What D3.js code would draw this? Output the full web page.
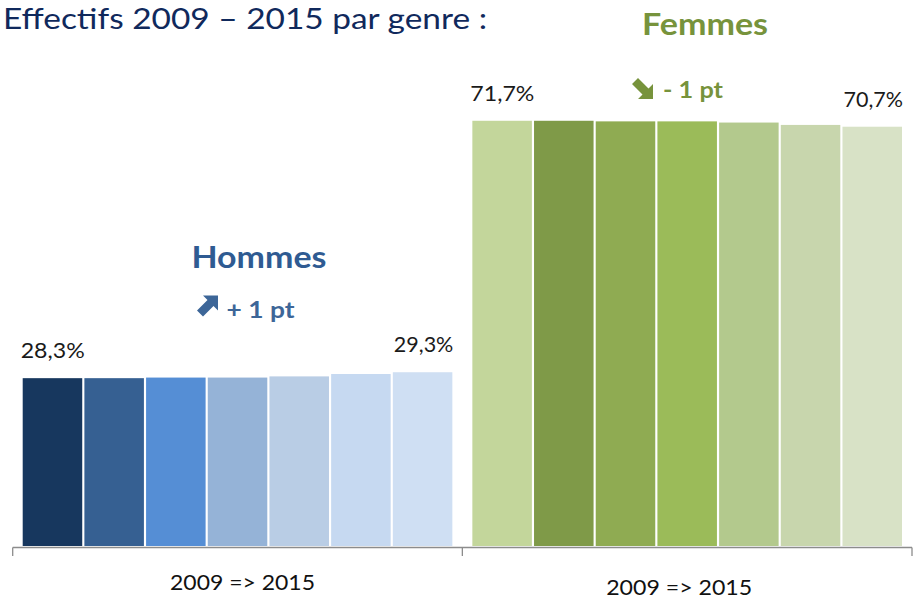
<!DOCTYPE html>
<html>
<head>
<meta charset="utf-8">
<script src="https://cdn.jsdelivr.net/npm/d3@7"></script>
<style>
  html, body { margin: 0; padding: 0; background: #fff; }
  svg text { font-family: Lato, "Open Sans", sans-serif; }
</style>
</head>
<body>
<svg id="chart" width="914" height="599"></svg>
<script>
// data
const groups = ["Hommes", "Femmes"];
const years = ["2009", "2010", "2011", "2012", "2013", "2014", "2015"];
const hommes = [28.3, 28.3, 28.4, 28.4, 28.6, 29.0, 29.3];
const femmes = [71.7, 71.7, 71.6, 71.6, 71.4, 71.0, 70.7];
const hommesLabels = ["28,3%", "29,3%"];
const femmesLabels = ["71,7%", "70,7%"];
const evolution = ["+ 1 pt", "- 1 pt"];
const axisLabel = "2009 => 2015";

const hommesColors = ["#17375e", "#366092", "#558ed5", "#95b3d7", "#b9cde5", "#c6d9f1", "#cfdff3"];
const femmesColors = ["#c3d69b", "#7f9a48", "#8fab52", "#9bbb59", "#b3c98d", "#c8d6ad", "#d8e2c6"];

const svg = d3.select("#chart");
const baseline = 546;

const x0 = d3.scaleBand()
  .domain(groups)
  .range([12.7, 912]);

const x1 = d3.scaleBand()
  .domain(years)
  .range([10, x0.bandwidth() - 10])
  .paddingInner(0.035);

const y = d3.scaleLinear()
  .domain([0, 72])
  .range([baseline, 119]);

const series = [
  { name: "Hommes", values: hommes, colors: hommesColors, labels: hommesLabels },
  { name: "Femmes", values: femmes, colors: femmesColors, labels: femmesLabels }
];

// title
svg.append("text")
  .attr("x", 3)
  .attr("y", 29)
  .attr("font-size", 28)
  .attr("fill", "#10295c")
  .attr("textLength", 484)
  .attr("lengthAdjust", "spacingAndGlyphs")
  .text("Effectifs 2009 \u2013 2015 par genre :");

// bars
series.forEach((s) => {
  const g = svg.append("g")
    .attr("transform", `translate(${x0(s.name)},0)`);

  g.selectAll("rect")
    .data(s.values)
    .enter()
    .append("rect")
    .attr("x", (d, i) => x1(years[i]))
    .attr("y", (d) => y(d))
    .attr("width", x1.bandwidth())
    .attr("height", (d) => baseline - y(d))
    .attr("fill", (d, i) => s.colors[i]);

  // first / last value labels
  const last = s.values.length - 1;
  g.append("text")
    .attr("x", x1(years[0]) - 2)
    .attr("y", y(s.values[0]) - 20)
    .attr("font-size", 21.5)
    .attr("fill", "#1a1a1a")
    .attr("textLength", 64)
    .attr("lengthAdjust", "spacingAndGlyphs")
    .text(s.labels[0]);

  g.append("text")
    .attr("x", x1(years[last]) + x1.bandwidth() + 1)
    .attr("y", y(s.values[last]) - 20)
    .attr("text-anchor", "end")
    .attr("font-size", 21.5)
    .attr("fill", "#1a1a1a")
    .text(s.labels[1]);
});

// axis
const axis = svg.append("g").attr("stroke", "#8c8c8c").attr("stroke-width", 1.3);
axis.append("line")
  .attr("x1", x0.range()[0]).attr("x2", x0.range()[1])
  .attr("y1", baseline + 1.5).attr("y2", baseline + 1.5);
axis.selectAll("line.tick")
  .data([x0.range()[0], x0("Femmes"), x0.range()[1]])
  .enter()
  .append("line")
  .attr("class", "tick")
  .attr("x1", (d) => d).attr("x2", (d) => d)
  .attr("y1", baseline + 1.5).attr("y2", baseline + 10);

svg.append("text")
  .attr("x", x0("Hommes") + x0.bandwidth() / 2 + 5)
  .attr("y", 589.5)
  .attr("text-anchor", "middle")
  .attr("font-size", 22)
  .attr("fill", "#111")
  .attr("textLength", 145)
  .attr("lengthAdjust", "spacingAndGlyphs")
  .text(axisLabel);

svg.append("text")
  .attr("x", x0("Femmes") + x0.bandwidth() / 2 - 8)
  .attr("y", 594.5)
  .attr("text-anchor", "middle")
  .attr("font-size", 22)
  .attr("fill", "#111")
  .attr("textLength", 146)
  .attr("lengthAdjust", "spacingAndGlyphs")
  .text(axisLabel);

// group headers with evolution arrows
const upArrow = "M21,0 L21,15 L16.5,10.5 L6,21 L0,15 L10.5,4.5 L6,0 Z";
const downArrow = "M21,21 L21,6 L16.5,10.5 L6,0 L0,6 L10.5,16.5 L6,21 Z";

svg.append("text")
  .attr("x", 259)
  .attr("y", 268)
  .attr("text-anchor", "middle")
  .attr("font-size", 31)
  .attr("font-weight", "bold")
  .attr("fill", "#2f5b92")
  .attr("textLength", 135)
  .attr("lengthAdjust", "spacingAndGlyphs")
  .text("Hommes");

svg.append("path")
  .attr("d", upArrow)
  .attr("transform", "translate(197,295.5)")
  .attr("fill", "#3d6698");

svg.append("text")
  .attr("x", 226.5)
  .attr("y", 318)
  .attr("font-size", 22)
  .attr("font-weight", "bold")
  .attr("fill", "#3d6698")
  .attr("textLength", 68)
  .attr("lengthAdjust", "spacingAndGlyphs")
  .text(evolution[0]);

svg.append("text")
  .attr("x", 705)
  .attr("y", 35)
  .attr("text-anchor", "middle")
  .attr("font-size", 31)
  .attr("font-weight", "bold")
  .attr("fill", "#77933c")
  .attr("textLength", 126)
  .attr("lengthAdjust", "spacingAndGlyphs")
  .text("Femmes");

svg.append("path")
  .attr("d", downArrow)
  .attr("transform", "translate(632,78)")
  .attr("fill", "#77933c");

svg.append("text")
  .attr("x", 663)
  .attr("y", 98)
  .attr("font-size", 22)
  .attr("font-weight", "bold")
  .attr("fill", "#77933c")
  .attr("textLength", 60)
  .attr("lengthAdjust", "spacingAndGlyphs")
  .text(evolution[1]);
</script>
</body>
</html>
